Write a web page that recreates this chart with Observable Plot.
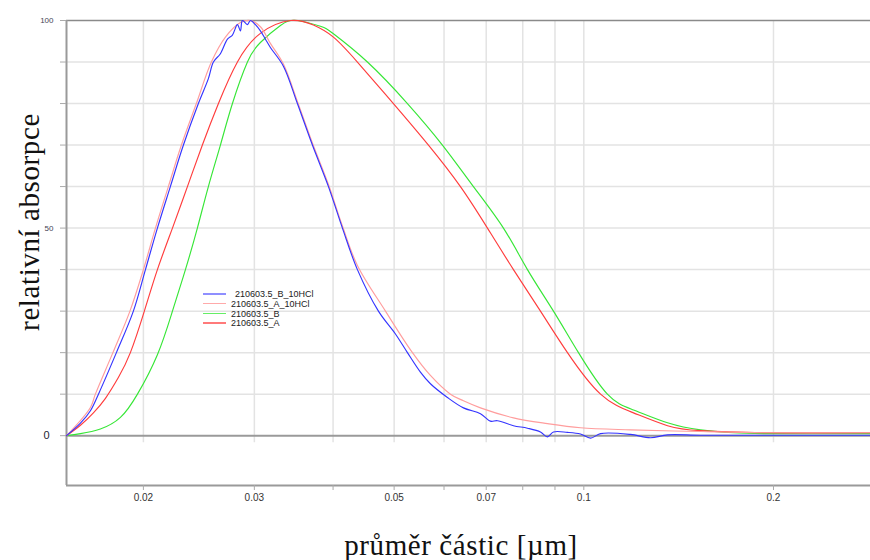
<!DOCTYPE html>
<html><head><meta charset="utf-8">
<script src="https://cdn.jsdelivr.net/npm/d3@7"></script>
<script src="https://cdn.jsdelivr.net/npm/@observablehq/plot@0.6"></script>
<style>
html,body{margin:0;padding:0;background:#fff;}
#wrap{position:relative;width:870px;height:560px;overflow:hidden;}
#chart svg{display:block;}
.ytitle{position:absolute;left:29px;top:222px;transform:translate(-50%,-50%) rotate(-90deg);white-space:nowrap;font:29px "Liberation Serif",serif;letter-spacing:0.6px;color:#111;}
.xtitle{position:absolute;left:461px;top:529px;transform:translateX(-50%);white-space:nowrap;font:29px "Liberation Serif",serif;letter-spacing:0.6px;color:#111;}
.legend{position:absolute;left:203px;top:289px;font:9px "Liberation Sans",Arial,sans-serif;color:#222;}
.legend .row{height:9.8px;position:relative;}
.legend .sw{position:absolute;left:0;top:4px;width:23px;height:1.6px;}
.legend .lab{position:absolute;left:28px;top:0;line-height:10px;white-space:nowrap;}
</style></head>
<body><div id="wrap"><div id="chart"></div>
<div class="ytitle">relativní absorpce</div>
<div class="xtitle">průměr částic [µm]</div>
<div class="legend" id="legend"></div>
</div>
<script>
// particle diameter [µm] vs relative absorbance [%]
const seriesNames = ["210603.5_B_10HCl", "210603.5_A_10HCl", "210603.5_B", "210603.5_A"];
const seriesColors = ["#3434ff", "#ff9d9d", "#36e636", "#ff3c3c"];
const legendColors = ["#8f8fff", "#ffaaaa", "#66ee66", "#ff7a7a"];
const seriesCurves = ["catmull-rom", "catmull-rom", "natural", "natural"];

const B_10HCl = [[0.0151,0],[0.01589,3],[0.01648,6],[0.01697,10],[0.01812,20],[0.01928,30],[0.02015,40],[0.02105,50],[0.02207,60],[0.02315,70],[0.02445,80],[0.02536,86],[0.02583,90],[0.0265,92],[0.02719,95.5],[0.02769,96.5],[0.0282,99],[0.02851,97.5],[0.02872,100],[0.02925,99],[0.02957,100],[0.03012,99],[0.03067,97.5],[0.03124,95.5],[0.03181,93.5],[0.03336,89],[0.03511,80],[0.03709,70],[0.03933,60],[0.04139,50],[0.04372,40],[0.04721,30],[0.05024,24.5],[0.05249,20],[0.05504,15.3],[0.05709,12.5],[0.06075,9.2],[0.06441,6.7],[0.06854,5.3],[0.07109,3.5],[0.07293,3.6],[0.07733,2.4],[0.08139,1.8],[0.08535,0.9],[0.08756,-0.3],[0.0895,0.9],[0.0942,0.8],[0.09879,0.4],[0.1025,-0.6],[0.1063,0.5],[0.1186,0.3],[0.1276,-0.5],[0.1358,0.2],[0.1532,0.1],[0.1957,0.1],[0.2851,0.1]];

const A_10HCl = [[0.0151,0],[0.01648,6.8],[0.01678,10],[0.01789,20],[0.01904,30],[0.02,40],[0.0209,50],[0.02191,60],[0.02298,70],[0.02427,80],[0.02564,90],[0.02699,96],[0.02851,99.5],[0.02957,100],[0.03067,98.5],[0.03181,94.5],[0.03336,89.5],[0.03511,80.5],[0.03709,70.5],[0.03933,60.5],[0.04139,50.5],[0.04372,41],[0.04844,30],[0.05346,20],[0.05709,14.5],[0.06142,10],[0.06441,8.4],[0.06854,6.7],[0.07733,4.3],[0.08756,2.9],[0.09879,1.9],[0.1186,1.4],[0.1532,1.0],[0.1957,0.7],[0.2851,0.7]];

const B = [[0.0151,0],[0.01589,0.5],[0.01709,1.6],[0.01839,4.4],[0.01957,10],[0.02105,19.5],[0.02224,30],[0.02332,40],[0.02436,50],[0.02536,60],[0.0265,70],[0.02769,80],[0.02925,90],[0.03067,94.7],[0.033,98.8],[0.03511,100],[0.03819,98.6],[0.04005,96.8],[0.04535,90],[0.05249,80],[0.05965,70],[0.06681,60],[0.07455,50],[0.08139,40],[0.0895,30],[0.09807,20],[0.109,10],[0.1199,6.2],[0.1358,3.1],[0.1532,1.4],[0.1728,0.7],[0.1957,0.5],[0.2851,0.5]];

const A = [[0.0151,0],[0.01589,2.5],[0.01666,5.5],[0.01741,9],[0.01825,14],[0.01907,20],[0.02007,30],[0.02105,40],[0.02224,50],[0.02349,60],[0.02481,70],[0.02631,80],[0.0282,90],[0.03067,96.9],[0.03423,100],[0.03723,98.9],[0.04005,96],[0.04372,90],[0.04987,80],[0.05668,70],[0.06371,60],[0.07032,50],[0.07733,40],[0.08535,30],[0.0942,20],[0.1063,10],[0.1199,5.5],[0.1358,2.4],[0.1532,1.2],[0.1957,0.7],[0.2851,0.7]];

const xDomain = [0.0151, 0.2851];
const yDomain = [-12, 100];
const gridX = [0.02,0.03,0.04,0.05,0.06,0.07,0.08,0.09,0.1,0.2];
const labelX = [0.02,0.03,0.05,0.07,0.1,0.2];
const gridY = [10,20,30,40,50,60,70,80,90];
const tickY = [0,10,20,30,40,50,60,70,80,90,100];

const seriesData = [B_10HCl, A_10HCl, B, A];
const drawOrder = [2, 3, 1, 0];

const lineMarks = drawOrder.map(i => Plot.line(seriesData[i], {
  x: d => d[0], y: d => d[1], stroke: seriesColors[i], strokeWidth: 1.15, curve: seriesCurves[i]
}));

const chart = Plot.plot({
  width: 870, height: 560,
  marginLeft: 66, marginRight: 0, marginTop: 20, marginBottom: 75,
  style: {background: "#fff", color: "#333", fontFamily: "'Liberation Sans', Arial, sans-serif"},
  x: {type: "log", domain: xDomain, label: null},
  y: {domain: yDomain, label: null},
  marks: [
    Plot.ruleY(gridY, {stroke: "#e3e3e3", strokeWidth: 1.5}),
    Plot.ruleX(gridX, {y1: 100, y2: -1.7, stroke: "#e3e3e3", strokeWidth: 1.5}),
    Plot.ruleY([100], {stroke: "#8a8a8a", strokeWidth: 1.5}),
    Plot.ruleY([0], {stroke: "#9a9a9a", strokeWidth: 2}),
    Plot.ruleY([yDomain[0]], {stroke: "#9a9a9a", strokeWidth: 2}),
    Plot.ruleX([xDomain[0]], {stroke: "#9a9a9a", strokeWidth: 2}),
    Plot.axisX({ticks: gridX, tickSize: 5, tickFormat: () => "", stroke: "#aaa", label: null}),
    Plot.axisX({ticks: labelX, tickSize: 0, tickPadding: 8, fontSize: 10, tickFormat: d => `${d}`, label: null}),
    Plot.axisY({ticks: tickY, tickSize: 6, tickFormat: () => "", stroke: "#aaa", label: null}),
    Plot.axisY({ticks: [50, 100], tickSize: 0, tickPadding: 13, fontSize: 8, label: null, fill: "#445"}),
    Plot.axisY({ticks: [0], tickSize: 0, tickPadding: 17, fontSize: 11, label: null, fill: "#223"}),
    ...lineMarks
  ]
});
document.getElementById("chart").appendChild(chart);

const leg = document.getElementById("legend");
seriesNames.forEach((n, i) => {
  const row = document.createElement("div");
  row.className = "row";
  const sw = document.createElement("div");
  sw.className = "sw";
  sw.style.background = legendColors[i];
  const t = document.createElement("div");
  t.className = "lab";
  t.textContent = n;
  if (i === 0) t.style.left = "32px";
  row.appendChild(sw); row.appendChild(t);
  leg.appendChild(row);
});
</script></body></html>
